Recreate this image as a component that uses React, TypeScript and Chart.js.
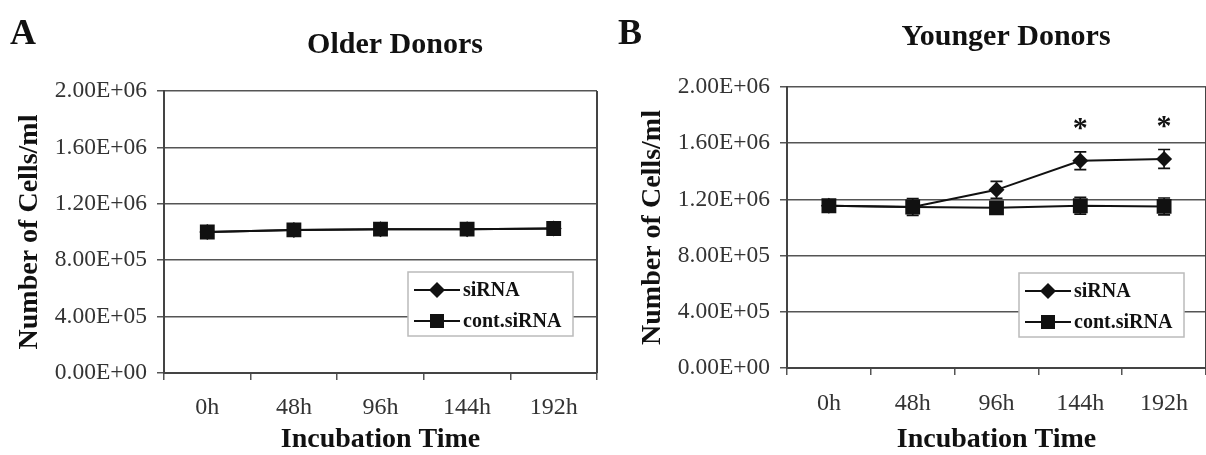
import React, { useEffect, useRef } from "react";
import { Chart, registerables } from "chart.js";

Chart.register(...registerables);

const categories = ["0h", "48h", "96h", "144h", "192h"];
const yTickValues = [0, 400000, 800000, 1200000, 1600000, 2000000];
const yTickLabels = ["0.00E+00", "4.00E+05", "8.00E+05", "1.20E+06", "1.60E+06", "2.00E+06"];
const seriesLabels = ["siRNA", "cont.siRNA"];

const olderSiRNA = [1000000, 1015000, 1020000, 1020000, 1025000];
const olderCont = [1000000, 1015000, 1020000, 1020000, 1025000];
const olderSiRNAErr = [0, 0, 0, 0, 0];
const olderContErr = [0, 0, 0, 0, 0];
const olderStars = ["", "", "", "", ""];

const youngerSiRNA = [1155000, 1146000, 1268000, 1475000, 1488000];
const youngerCont = [1155000, 1146000, 1140000, 1155000, 1150000];
const youngerSiRNAErr = [0, 0, 60000, 63000, 67000];
const youngerContErr = [0, 60000, 40000, 60000, 60000];
const youngerStars = ["", "", "", "*", "*"];

const SERIF = "'Liberation Serif', 'Times New Roman', serif";

type PanelCfg = {
  letter: string;
  title: string;
  siRNA: number[];
  cont: number[];
  siErr: number[];
  contErr: number[];
  stars: string[];
  padTop: number;
  padRight: number;
  xAxisHeight: number;
  yAxisWidth: number;
  yTitlePad: number;
  xTickPad: number;
  titleX: number;
  titleY: number;
  letterX: number;
  letterY: number;
  legendRight: number;
  legendBottom: number;
};

const decorPlugin = {
  id: "panelDecor",
  beforeDatasetsDraw(chart: any) {
    const ctx = chart.ctx;
    const ys = chart.scales.y;
    chart.data.datasets.forEach((ds: any, di: number) => {
      const errs: number[] = ds.errors || [];
      const meta = chart.getDatasetMeta(di);
      meta.data.forEach((pt: any, i: number) => {
        const e = errs[i];
        if (!e) return;
        const v = ds.data[i];
        const yt = ys.getPixelForValue(v + e);
        const yb = ys.getPixelForValue(v - e);
        ctx.save();
        ctx.strokeStyle = "#111";
        ctx.lineWidth = 1.6;
        ctx.beginPath();
        ctx.moveTo(pt.x, yt);
        ctx.lineTo(pt.x, yb);
        ctx.moveTo(pt.x - 6, yt);
        ctx.lineTo(pt.x + 6, yt);
        ctx.moveTo(pt.x - 6, yb);
        ctx.lineTo(pt.x + 6, yb);
        ctx.stroke();
        ctx.restore();
      });
    });
  },
  afterDraw(chart: any, _a: any, opts: any) {
    const ctx = chart.ctx;
    const ca = chart.chartArea;
    const ys = chart.scales.y;
    ctx.save();
    ctx.strokeStyle = "#444";
    ctx.lineWidth = 2;
    ctx.beginPath();
    ctx.moveTo(ca.right, ca.top);
    ctx.lineTo(ca.right, ca.bottom);
    ctx.stroke();

    ctx.fillStyle = "#111";
    ctx.textBaseline = "alphabetic";
    ctx.textAlign = "left";
    ctx.font = `bold 36px ${SERIF}`;
    ctx.fillText(opts.letter, opts.letterX, opts.letterY);

    ctx.textAlign = "center";
    ctx.font = `bold 30px ${SERIF}`;
    ctx.fillText(opts.title, opts.titleX, opts.titleY);

    const siDs = chart.data.datasets[1];
    const siMeta = chart.getDatasetMeta(1);
    ctx.font = `bold 30px ${SERIF}`;
    (opts.stars as string[]).forEach((s, i) => {
      if (!s) return;
      const v = siDs.data[i] + (siDs.errors[i] || 0);
      const x = siMeta.data[i].x;
      const y = ys.getPixelForValue(v) - 15;
      ctx.fillText(s, x, y);
    });

    const w = 165;
    const h = 64;
    const lx = ca.right - opts.legendRight - w;
    const ly = ca.bottom - opts.legendBottom - h;
    ctx.fillStyle = "#fff";
    ctx.fillRect(lx, ly, w, h);
    ctx.strokeStyle = "#bbb";
    ctx.lineWidth = 1.5;
    ctx.strokeRect(lx, ly, w, h);
    const entries = [
      { ds: chart.data.datasets[1], row: 0 },
      { ds: chart.data.datasets[0], row: 1 },
    ];
    entries.forEach(({ ds, row }) => {
      const cy = ly + 18 + row * 31;
      const x0 = lx + 6;
      const x1 = lx + 52;
      const mx = (x0 + x1) / 2;
      ctx.strokeStyle = "#111";
      ctx.lineWidth = 2;
      ctx.beginPath();
      ctx.moveTo(x0, cy);
      ctx.lineTo(x1, cy);
      ctx.stroke();
      ctx.fillStyle = "#111";
      ctx.beginPath();
      if (ds.pointStyle === "rectRot") {
        ctx.moveTo(mx - 8, cy);
        ctx.lineTo(mx, cy - 8);
        ctx.lineTo(mx + 8, cy);
        ctx.lineTo(mx, cy + 8);
        ctx.closePath();
      } else {
        ctx.rect(mx - 7, cy - 7, 14, 14);
      }
      ctx.fill();
      ctx.fillStyle = "#111";
      ctx.textAlign = "left";
      ctx.textBaseline = "middle";
      ctx.font = `bold 20px ${SERIF}`;
      ctx.fillText(ds.label, x1 + 3, cy + 1);
    });
    ctx.restore();
  },
};

function Panel({ cfg, left, width }: { cfg: PanelCfg; left: number; width: number }) {
  const ref = useRef<HTMLCanvasElement | null>(null);
  useEffect(() => {
    if (!ref.current) return;
    const chart = new Chart(ref.current, {
      type: "line",
      data: {
        labels: categories,
        datasets: [
          {
            label: seriesLabels[1],
            data: cfg.cont,
            errors: cfg.contErr,
            borderColor: "#111",
            backgroundColor: "#111",
            borderWidth: 2,
            pointStyle: "rect",
            pointRadius: 10.5,
            pointBackgroundColor: "#111",
            pointBorderColor: "#111",
            pointBorderWidth: 0,
            tension: 0,
            order: 0,
          } as any,
          {
            label: seriesLabels[0],
            data: cfg.siRNA,
            errors: cfg.siErr,
            borderColor: "#111",
            backgroundColor: "#111",
            borderWidth: 2,
            pointStyle: "rectRot",
            pointRadius: 8,
            pointBackgroundColor: "#111",
            pointBorderColor: "#111",
            pointBorderWidth: 0,
            tension: 0,
            order: 1,
          } as any,
        ],
      },
      options: {
        animation: false,
        responsive: false,
        events: [],
        layout: {
          autoPadding: false,
          padding: { top: cfg.padTop, right: cfg.padRight, left: 0, bottom: 0 },
        },
        plugins: {
          legend: { display: false },
          tooltip: { enabled: false },
          title: { display: false },
          panelDecor: {
            letter: cfg.letter,
            title: cfg.title,
            stars: cfg.stars,
            titleX: cfg.titleX,
            titleY: cfg.titleY,
            letterX: cfg.letterX,
            letterY: cfg.letterY,
            legendRight: cfg.legendRight,
            legendBottom: cfg.legendBottom,
          },
        } as any,
        scales: {
          x: {
            type: "category",
            offset: true,
            grid: {
              offset: true,
              drawOnChartArea: false,
              drawTicks: true,
              tickLength: 7,
              color: "#555",
              lineWidth: 1.5,
            },
            border: { color: "#444", width: 2 },
            ticks: {
              font: { family: SERIF, size: 24 },
              color: "#333",
              padding: cfg.xTickPad,
              maxRotation: 0,
              autoSkip: false,
            },
            title: {
              display: true,
              text: "Incubation Time",
              font: { family: SERIF, size: 28, weight: "bold", lineHeight: 1 },
              color: "#111",
              padding: { top: 0, bottom: 1 },
            },
            afterFit: (s: any) => {
              s.height = cfg.xAxisHeight;
              s.paddingLeft = 0;
              s.paddingRight = 0;
            },
          },
          y: {
            min: 0,
            max: 2000000,
            afterBuildTicks: (s: any) => {
              s.ticks = yTickValues.map((v) => ({ value: v }));
            },
            ticks: {
              callback: (_v: any, i: number) => yTickLabels[i],
              font: { family: SERIF, size: 23.5 },
              color: "#333",
              padding: 10,
            },
            grid: { color: "#555", lineWidth: 1.5, tickLength: 7 },
            border: { color: "#444", width: 2 },
            title: {
              display: true,
              text: "Number of Cells/ml",
              font: { family: SERIF, size: 28, weight: "bold", lineHeight: 1 },
              color: "#111",
              padding: { top: cfg.yTitlePad, bottom: 0 },
            },
            afterFit: (s: any) => {
              s.width = cfg.yAxisWidth;
            },
          },
        },
      } as any,
      plugins: [decorPlugin as any],
    });
    return () => chart.destroy();
  }, [cfg]);
  return (
    <div style={{ position: "absolute", left, top: 0, width, height: 455 }}>
      <canvas ref={ref} width={width} height={455} />
    </div>
  );
}

const panelA: PanelCfg = {
  letter: "A",
  title: "Older Donors",
  siRNA: olderSiRNA,
  cont: olderCont,
  siErr: olderSiRNAErr,
  contErr: olderContErr,
  stars: olderStars,
  padTop: 91,
  padRight: 6,
  xAxisHeight: 82,
  yAxisWidth: 164,
  yTitlePad: 16,
  xTickPad: 13,
  titleX: 395,
  titleY: 53,
  letterX: 10,
  letterY: 44,
  legendRight: 24,
  legendBottom: 37,
};

const panelB: PanelCfg = {
  letter: "B",
  title: "Younger Donors",
  siRNA: youngerSiRNA,
  cont: youngerCont,
  siErr: youngerSiRNAErr,
  contErr: youngerContErr,
  stars: youngerStars,
  padTop: 87,
  padRight: 0,
  xAxisHeight: 87,
  yAxisWidth: 184,
  yTitlePad: 36,
  xTickPad: 14,
  titleX: 403,
  titleY: 45,
  letterX: 15,
  letterY: 44,
  legendRight: 22,
  legendBottom: 31,
};

export default function App() {
  return (
    <div style={{ position: "absolute", left: 0, top: 0, width: 1206, height: 455, background: "#fff", overflow: "hidden" }}>
      <Panel cfg={panelA} left={0} width={603} />
      <Panel cfg={panelB} left={603} width={603} />
    </div>
  );
}
